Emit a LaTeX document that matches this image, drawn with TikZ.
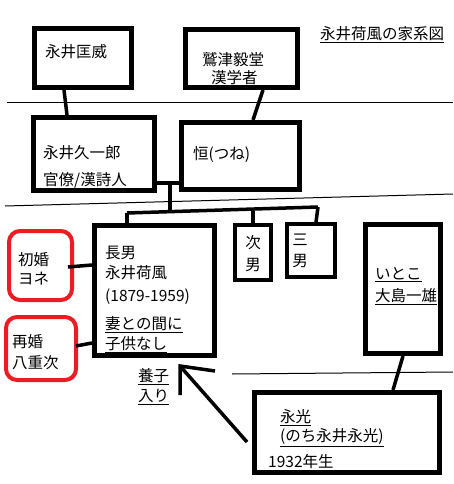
\documentclass[tikz,border=0pt]{standalone}
\usepackage{fontspec}
\setmainfont{Noto Sans CJK JP}
\definecolor{paintred}{RGB}{237,28,36}
\begin{document}
\begin{tikzpicture}[x=1pt,y=-1pt,
  box/.style={draw=black,line width=5pt,inner sep=0pt,fill=white},
  thinbox/.style={draw=black,line width=4pt,inner sep=0pt,fill=white},
  redbox/.style={draw=paintred,line width=4pt,rounded corners=11pt,inner sep=0pt,fill=white},
  txt/.style={inner sep=0pt,anchor=west,font=\fontsize{15.5pt}{18pt}\selectfont},
  ctxt/.style={inner sep=0pt,anchor=center,font=\fontsize{15.5pt}{18pt}\selectfont},
  conn/.style={line width=3.5pt},
  sep/.style={line width=1pt}]
\useasboundingbox[fill=white] (0,0) rectangle (453,484);

% separators
\coordinate (s1a) at (7,103); \coordinate (s1b) at (453,103);
\draw[sep] (s1a) -- (s1b);
\coordinate (s2a) at (5,206); \coordinate (s2b) at (453,194);
\draw[sep] (s2a) -- (s2b);
\coordinate (s3a) at (232,374); \coordinate (s3b) at (453,372);
\draw[sep] (s3a) -- (s3b);

% boxes
\node[box,minimum width=97pt,minimum height=59pt] (kani) at (83,58) {};
\node[box,minimum width=112pt,minimum height=58pt] (washizu) at (241.5,58.5) {};
\node[box,minimum width=121pt,minimum height=73pt] (kyu) at (94,154) {};
\node[box,minimum width=118pt,minimum height=67pt] (tsune) at (240.5,156) {};
\node[box,minimum width=120pt,minimum height=130pt] (kafu) at (154.5,290.5) {};
\node[thinbox,minimum width=36pt,minimum height=55pt] (jinan) at (253,252.5) {};
\node[thinbox,minimum width=48pt,minimum height=53pt] (sannan) at (311,250.5) {};
\node[box,minimum width=75pt,minimum height=129pt] (itoko) at (403,289) {};
\node[box,minimum width=185pt,minimum height=80pt] (naga) at (347,432.5) {};
\node[redbox,minimum width=63pt,minimum height=69pt] (yone) at (40.5,265.5) {};
\node[redbox,minimum width=70pt,minimum height=63pt] (yaeji) at (41,348.5) {};

% texts
\node[txt] (title) at (320,35) {\underline{永井荷風の家系図}};
\node[txt] (t1) at (45,52) {永井匡威};
\node[txt] (t2a) at (202,60) {鷲津毅堂};
\node[txt] (t2b) at (211,78) {漢学者};
\node[txt] (t3a) at (43,153) {永井久一郎};
\node[txt] (t3b) at (43,180) {官僚/漢詩人};
\node[txt] (t4) at (193,155) {恒(つね)};
\node[txt] (t5a) at (105,253) {長男};
\node[txt] (t5b) at (105,273) {永井荷風};
\node[txt] (t5c) at (105,297) {(1879-1959)};
\node[txt] (t5d) at (105,325) {\underline{妻との間に}};
\node[txt] (t5e) at (105,345) {\underline{子供なし}};
\node[ctxt] (t6a) at (253,243) {次};
\node[ctxt] (t6b) at (253,265) {男};
\node[ctxt] (t7a) at (300,240) {三};
\node[ctxt] (t7b) at (300,261) {男};
\node[txt] (t8a) at (375,275) {\underline{いとこ}};
\node[txt] (t8b) at (375,297) {\underline{大島一雄}};
\node[txt] (t9a) at (18,260) {初婚};
\node[txt] (t9b) at (18,279) {ヨネ};
\node[txt] (t10a) at (12,342) {再婚};
\node[txt] (t10b) at (12,363) {八重次};
\node[txt] (t11a) at (138,377) {\underline{養子}};
\node[txt] (t11b) at (138,397) {\underline{入り}};
\node[txt] (t12a) at (280,418) {\underline{永光}};
\node[txt] (t12b) at (280,438) {\underline{(のち永井永光)}};
\node[txt] (t12c) at (268,463) {\underline{1932年生}};

% connectors
\draw[conn] ([xshift=-19pt]kani.south) -- ([xshift=-27pt]kyu.north);
\draw[conn] ([xshift=21.5pt]washizu.south) -- ([xshift=12.5pt]tsune.north);
\coordinate (mar) at (170,183);
\draw[conn] (kyu.east |- mar) -- (tsune.west |- mar);
\coordinate (bar1) at (127,213);
\coordinate (bar2) at (318,207);
\draw[conn] (mar) -- (170,212);
\draw[conn] (bar1) -- (bar2);
\draw[conn] (bar1) -- (bar1 |- kafu.north);
\draw[conn] (253,211) -- (jinan.north);
\draw[conn] (bar2) -- ([xshift=5pt]sannan.north);
\coordinate (m1a) at (68,267); \coordinate (m1b) at (92,265);
\draw[conn] (m1a) -- (m1b);
\coordinate (m2a) at (76,346); \coordinate (m2b) at (92,343);
\draw[conn] (m2a) -- (m2b);
\draw[conn] ([xshift=0pt]itoko.south) -- ([xshift=46pt]naga.north);
\coordinate (tail) at (247,442);
\coordinate (tip) at (180,366);
\coordinate (arm1) at (215,371);
\coordinate (arm2) at (180,395);
\draw[conn] (tail) -- (tip);
\draw[conn] (arm1) -- (tip) -- (arm2);
\end{tikzpicture}
\end{document}
